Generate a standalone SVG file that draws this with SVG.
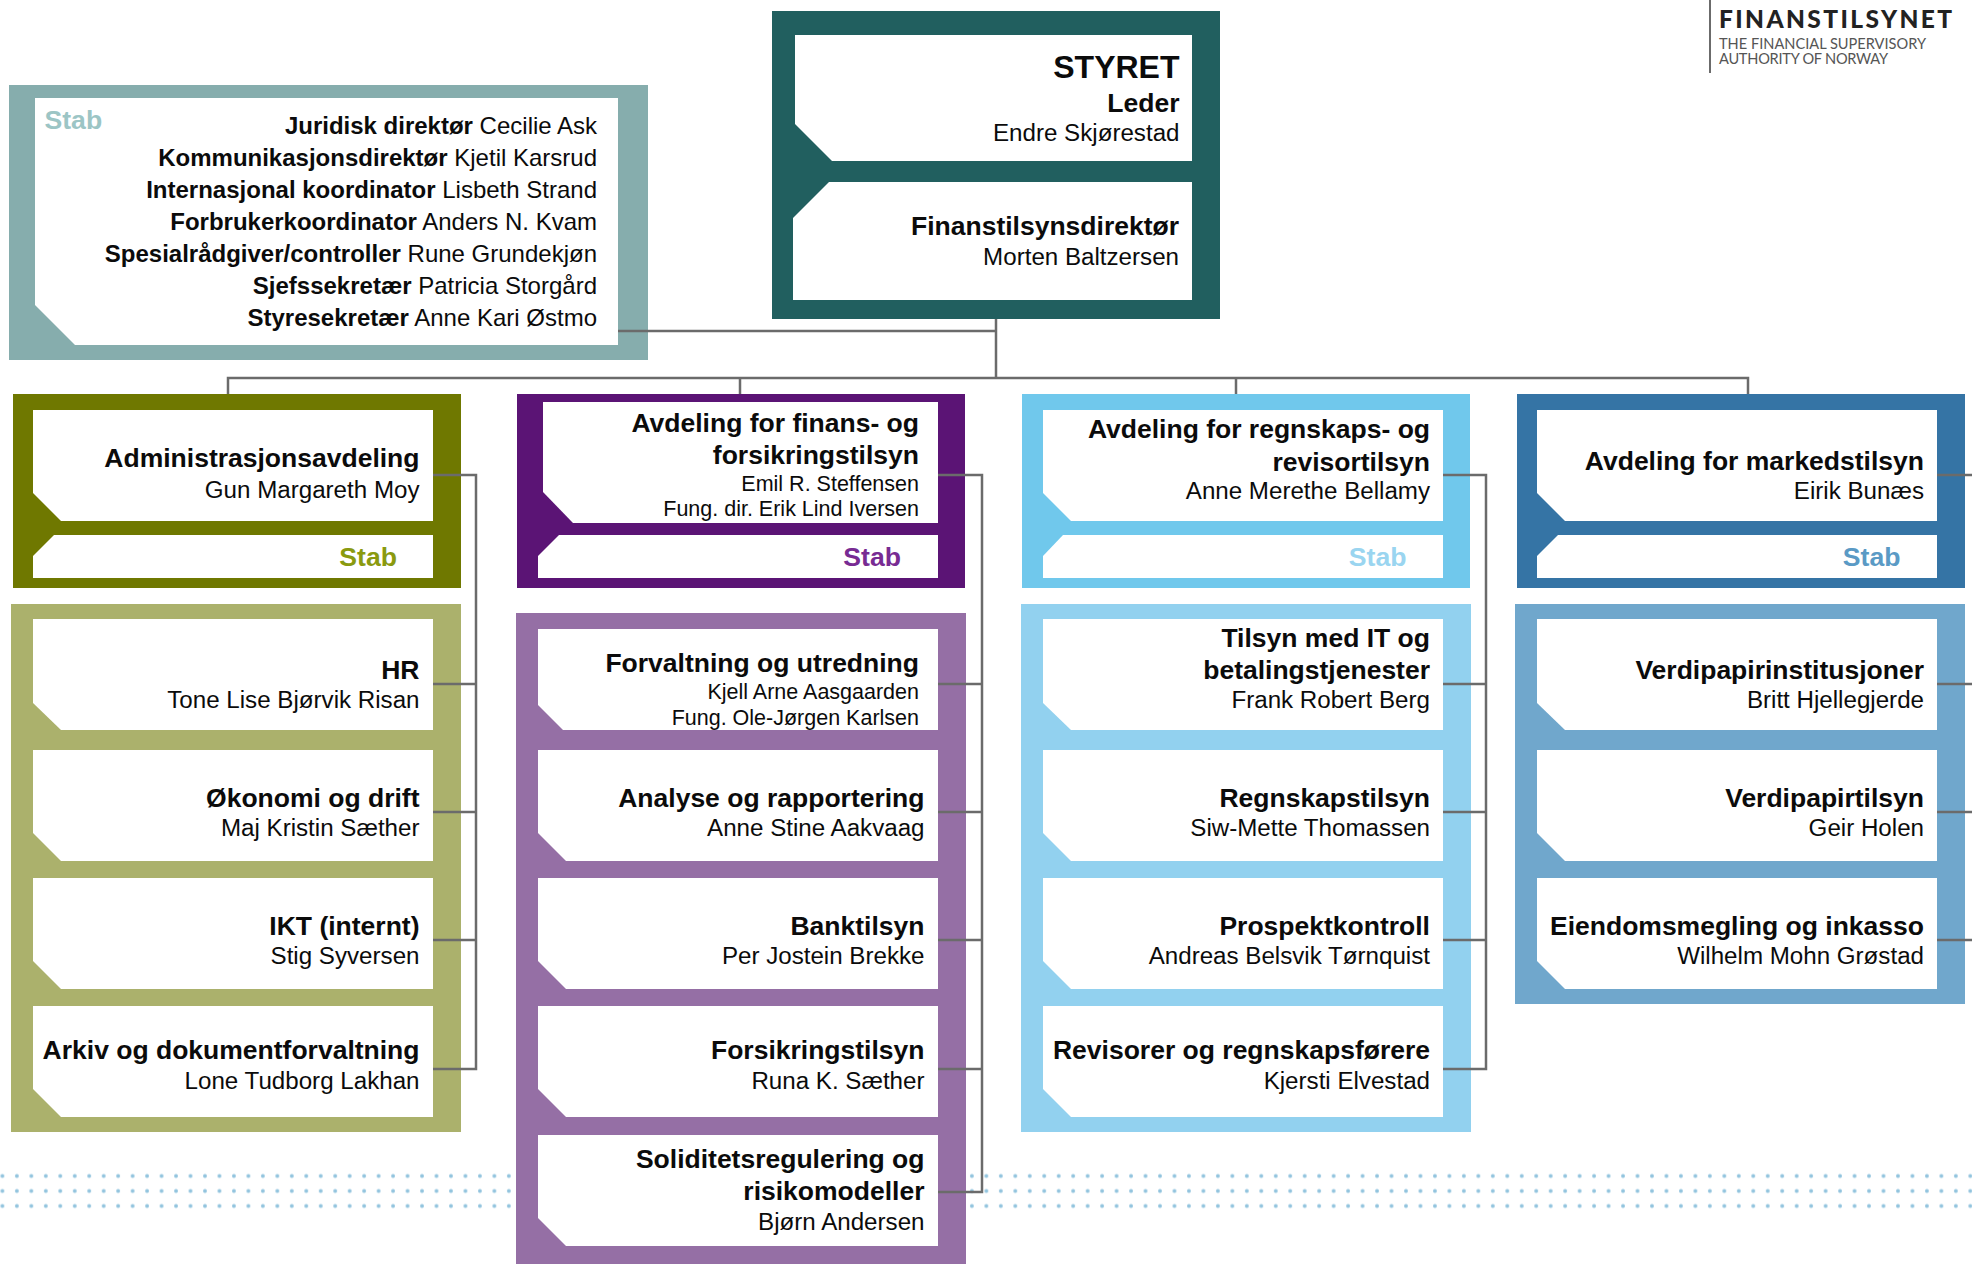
<svg xmlns="http://www.w3.org/2000/svg" width="1972" height="1264" viewBox="0 0 1972 1264">
<style>
text{font-family:"Liberation Sans",Arial,sans-serif;fill:#0b0b0b;text-anchor:end}
.t{font-size:26.5px;font-weight:700}
.n{font-size:24.15px}
.s{font-size:21.5px}
.st{font-size:26.6px;font-weight:700}
.l{font-size:24px}
.l tspan{font-weight:700}
.w{fill:#fff}
.c{fill:none;stroke:#6b6b6b;stroke-width:2.5}
.logo{font-family:Lato,"Liberation Sans",sans-serif;text-anchor:start}
</style>
<defs>
<pattern id="dots" x="2.4" y="1168.5" width="14.47" height="15" patternUnits="userSpaceOnUse"><circle cx="0" cy="7.5" r="1.9" fill="#92c4de"/><circle cx="14.47" cy="7.5" r="1.9" fill="#92c4de"/></pattern>
</defs>
<rect width="1972" height="1264" fill="#fff"/>
<rect id="dot-band" x="0" y="1168.5" width="1972" height="45" fill="url(#dots)"/>

<g id="logo">
<rect x="1709" y="0" width="2" height="73" fill="#6b6b6b"/>
<text class="logo" x="1719" y="28" font-size="24.5" font-weight="900" style="fill:#222" textLength="233" lengthAdjust="spacing">FINANSTILSYNET</text>
<text class="logo" x="1719" y="49" font-size="14.6" style="fill:#555" textLength="207" lengthAdjust="spacing">THE FINANCIAL SUPERVISORY</text>
<text class="logo" x="1719" y="64" font-size="14.6" style="fill:#555" textLength="169" lengthAdjust="spacing">AUTHORITY OF NORWAY</text>
</g>

<g id="stab">
<rect x="9" y="85" width="639" height="275" fill="#86adad"/>
<polygon class="w" points="35,98 618,98 618,345 75,345 35,305"/>
<text class="st" x="44.5" y="129" style="text-anchor:start;fill:#9cc5c5">Stab</text>
<text class="l" x="597" y="134"><tspan>Juridisk direktør</tspan> Cecilie Ask</text>
<text class="l" x="597" y="166"><tspan>Kommunikasjonsdirektør</tspan> Kjetil Karsrud</text>
<text class="l" x="597" y="198"><tspan>Internasjonal koordinator</tspan> Lisbeth Strand</text>
<text class="l" x="597" y="230"><tspan>Forbrukerkoordinator</tspan> Anders N. Kvam</text>
<text class="l" x="597" y="262"><tspan>Spesialrådgiver/controller</tspan> Rune Grundekjøn</text>
<text class="l" x="597" y="294"><tspan>Sjefssekretær</tspan> Patricia Storgård</text>
<text class="l" x="597" y="326"><tspan>Styresekretær</tspan> Anne Kari Østmo</text>
</g>

<g id="styret">
<rect x="772" y="11" width="448" height="308" fill="#215f5f"/>
<polygon class="w" points="795,35 1192,35 1192,161 832,161 795,124"/>
<polygon class="w" points="829,182 1192,182 1192,300 793,300 793,218"/>
<text x="1179.5" y="78" font-size="32" font-weight="700">STYRET</text>
<text class="t" x="1179.5" y="112">Leder</text>
<text class="n" x="1179.5" y="141">Endre Skjørestad</text>
<text class="t" x="1179" y="235">Finanstilsynsdirektør</text>
<text class="n" x="1179" y="265">Morten Baltzersen</text>
</g>

<g id="admin">
<rect x="13" y="394" width="448" height="194" fill="#6f7800"/>
<polygon class="w" points="33,410 433,410 433,521 61,521 33,493"/>
<polygon class="w" points="54,535 433,535 433,578 33,578 33,556"/>
<text class="t" x="419.5" y="466.5">Administrasjonsavdeling</text>
<text class="n" x="419.5" y="498">Gun Margareth Moy</text>
<text class="st" x="397" y="566" style="fill:#8a9a0f">Stab</text>
</g>
<g id="admin-units">
<rect x="11" y="604" width="450" height="528" fill="#abb16c"/>
<polygon class="w" points="33,619 433,619 433,730 61,730 33,703"/>
<polygon class="w" points="33,750 433,750 433,861 61,861 33,833"/>
<polygon class="w" points="33,878 433,878 433,989 61,989 33,961"/>
<polygon class="w" points="33,1006 433,1006 433,1117 61,1117 33,1089"/>
<text class="t" x="419.5" y="679">HR</text><text class="n" x="419.5" y="708">Tone Lise Bjørvik Risan</text>
<text class="t" x="419.5" y="807">Økonomi og drift</text><text class="n" x="419.5" y="836">Maj Kristin Sæther</text>
<text class="t" x="419.5" y="935">IKT (internt)</text><text class="n" x="419.5" y="964">Stig Syversen</text>
<text class="t" x="419.5" y="1059">Arkiv og dokumentforvaltning</text><text class="n" x="419.5" y="1089">Lone Tudborg Lakhan</text>
</g>

<g id="finans">
<rect x="517" y="394" width="448" height="194" fill="#5b1475"/>
<polygon class="w" points="543,402 938,402 938,523 573,523 543,492"/>
<polygon class="w" points="559,535 938,535 938,578 538,578 538,556"/>
<text class="t" x="919" y="432">Avdeling for finans- og</text>
<text class="t" x="919" y="464">forsikringstilsyn</text>
<text class="s" x="919" y="491">Emil R. Steffensen</text>
<text class="s" x="919" y="516">Fung. dir. Erik Lind Iversen</text>
<text class="st" x="901" y="566" style="fill:#782b93">Stab</text>
</g>
<g id="finans-units">
<rect x="516" y="613" width="450" height="651" fill="#956fa5"/>
<polygon class="w" points="538,629 938,629 938,730 563,730 538,705"/>
<polygon class="w" points="538,750 938,750 938,861 566,861 538,833"/>
<polygon class="w" points="538,878 938,878 938,989 566,989 538,961"/>
<polygon class="w" points="538,1006 938,1006 938,1117 566,1117 538,1089"/>
<polygon class="w" points="538,1135 938,1135 938,1246 566,1246 538,1218"/>
<text class="t" x="919" y="672">Forvaltning og utredning</text>
<text class="s" x="919" y="699">Kjell Arne Aasgaarden</text>
<text class="s" x="919" y="725">Fung. Ole-Jørgen Karlsen</text>
<text class="t" x="924.5" y="807">Analyse og rapportering</text><text class="n" x="924.5" y="836">Anne Stine Aakvaag</text>
<text class="t" x="924.5" y="935">Banktilsyn</text><text class="n" x="924.5" y="964">Per Jostein Brekke</text>
<text class="t" x="924.5" y="1059">Forsikringstilsyn</text><text class="n" x="924.5" y="1089">Runa K. Sæther</text>
<text class="t" x="924.5" y="1167.5">Soliditetsregulering og</text>
<text class="t" x="924.5" y="1200">risikomodeller</text>
<text class="n" x="924.5" y="1230">Bjørn Andersen</text>
</g>

<g id="regnskap">
<rect x="1022" y="394" width="448" height="194" fill="#70c8ec"/>
<polygon class="w" points="1043,410 1443,410 1443,521 1071,521 1043,493"/>
<polygon class="w" points="1063,535 1443,535 1443,578 1043,578 1043,556"/>
<text class="t" x="1430" y="438">Avdeling for regnskaps- og</text>
<text class="t" x="1430" y="471">revisortilsyn</text>
<text class="n" x="1430" y="499">Anne Merethe Bellamy</text>
<text class="st" x="1406.5" y="566" style="fill:#9ad5f0">Stab</text>
</g>
<g id="regnskap-units">
<rect x="1021" y="604" width="450" height="528" fill="#92d1ef"/>
<polygon class="w" points="1043,619 1443,619 1443,730 1071,730 1043,703"/>
<polygon class="w" points="1043,750 1443,750 1443,861 1071,861 1043,833"/>
<polygon class="w" points="1043,878 1443,878 1443,989 1071,989 1043,961"/>
<polygon class="w" points="1043,1006 1443,1006 1443,1117 1071,1117 1043,1089"/>
<text class="t" x="1430" y="646.5">Tilsyn med IT og</text>
<text class="t" x="1430" y="679">betalingstjenester</text>
<text class="n" x="1430" y="708">Frank Robert Berg</text>
<text class="t" x="1430" y="807">Regnskapstilsyn</text><text class="n" x="1430" y="836">Siw-Mette Thomassen</text>
<text class="t" x="1430" y="935">Prospektkontroll</text><text class="n" x="1430" y="964">Andreas Belsvik Tørnquist</text>
<text class="t" x="1430" y="1059">Revisorer og regnskapsførere</text><text class="n" x="1430" y="1089">Kjersti Elvestad</text>
</g>

<g id="marked">
<rect x="1517" y="394" width="448" height="194" fill="#3574a5"/>
<polygon class="w" points="1537,410 1937,410 1937,521 1565,521 1537,493"/>
<polygon class="w" points="1558,535 1937,535 1937,578 1537,578 1537,556"/>
<text class="t" x="1924" y="470">Avdeling for markedstilsyn</text>
<text class="n" x="1924" y="499">Eirik Bunæs</text>
<text class="st" x="1900.5" y="566" style="fill:#5a9ac5">Stab</text>
</g>
<g id="marked-units">
<rect x="1515" y="604" width="450" height="400" fill="#70a7cc"/>
<polygon class="w" points="1537,619 1937,619 1937,730 1565,730 1537,703"/>
<polygon class="w" points="1537,750 1937,750 1937,861 1565,861 1537,833"/>
<polygon class="w" points="1537,878 1937,878 1937,989 1565,989 1537,961"/>
<text class="t" x="1924" y="679">Verdipapirinstitusjoner</text><text class="n" x="1924" y="708">Britt Hjellegjerde</text>
<text class="t" x="1924" y="807">Verdipapirtilsyn</text><text class="n" x="1924" y="836">Geir Holen</text>
<text class="t" x="1924" y="935">Eiendomsmegling og inkasso</text><text class="n" x="1924" y="964">Wilhelm Mohn Grøstad</text>
</g>

<g id="connectors" class="c">
<path d="M996 319V378"/>
<path d="M618 331H996"/>
<path d="M228 394V378H1748V394"/>
<path d="M740 378V394"/>
<path d="M1236 378V394"/>
<path d="M433 475H476V1069H433M433 684H476M433 812H476M433 940H476"/>
<path d="M938 475H982V1192H938M938 684H982M938 812H982M938 940H982M938 1069H982"/>
<path d="M1443 475H1486V1069H1443M1443 684H1486M1443 812H1486M1443 940H1486"/>
<path d="M1937 475H1972M1937 684H1972M1937 812H1972M1937 940H1972"/>
</g>
</svg>
